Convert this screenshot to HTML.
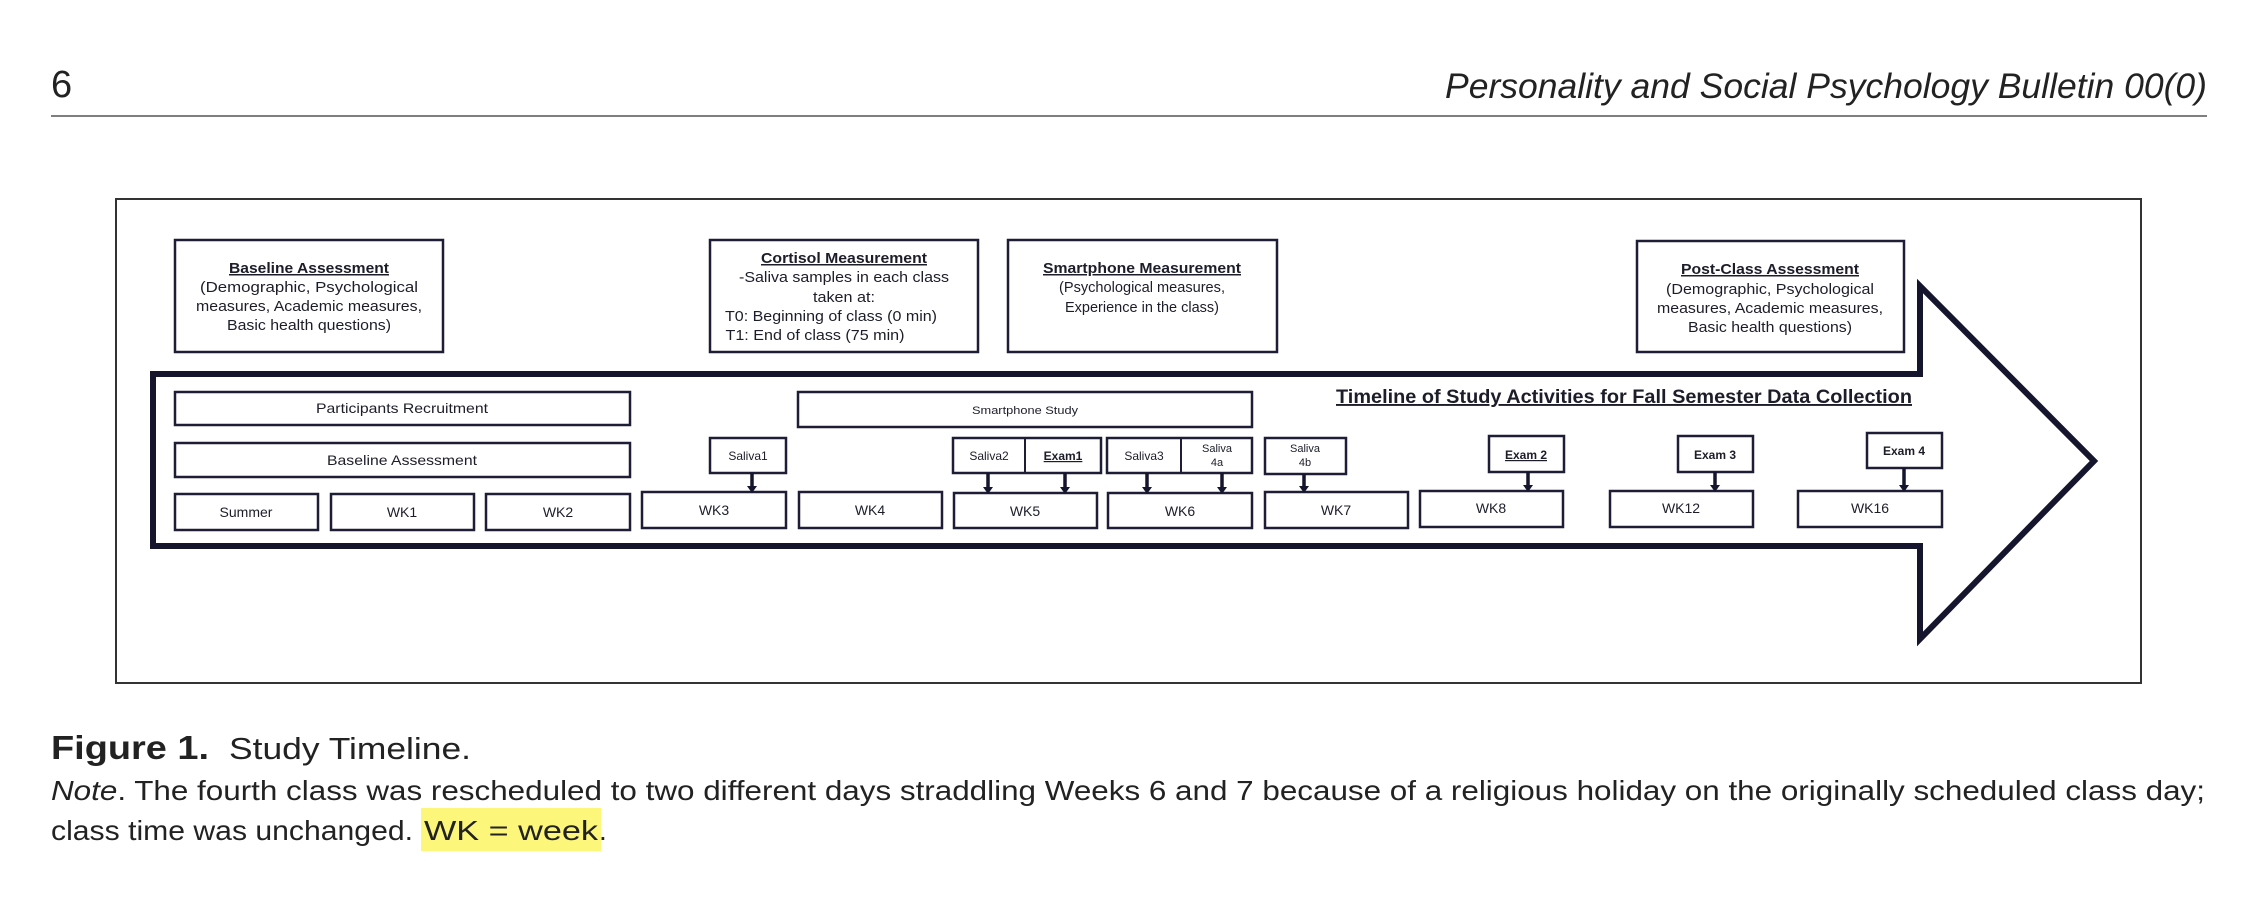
<!DOCTYPE html>
<html><head><meta charset="utf-8"><style>
html,body{margin:0;padding:0;background:#fff;}
svg{display:block;}
text{font-family:"Liberation Sans",sans-serif;fill:#1d1d2a;}
.hd{fill:#222;}
</style></head><body>
<svg width="2260" height="917" viewBox="0 0 2260 917" xmlns="http://www.w3.org/2000/svg">
<!-- header -->
<text x="51" y="97" font-size="38" class="hd">6</text>
<text x="1445" y="98" font-size="35" font-style="italic" class="hd" textLength="762" lengthAdjust="spacingAndGlyphs">Personality and Social Psychology Bulletin 00(0)</text>
<line x1="51" y1="116" x2="2207" y2="116" stroke="#555" stroke-width="1.5"/>

<!-- frame -->
<rect x="116" y="199" width="2025" height="484" fill="#fff" stroke="#333" stroke-width="2"/>

<!-- big arrow -->
<polygon points="153,374 1920,374 1920,286 2094,461 1920,639 1920,546 153,546" fill="#fff" stroke="#15152e" stroke-width="6" stroke-linejoin="miter"/>

<g fill="#fff" stroke="#1d1d35" stroke-width="2.5">
<rect x="175" y="240" width="268" height="112"/>
<rect x="710" y="240" width="268" height="112"/>
<rect x="1008" y="240" width="269" height="112"/>
<rect x="1637" y="241" width="267" height="111"/>
<rect x="175" y="392" width="455" height="33"/>
<rect x="175" y="443" width="455" height="34"/>
<rect x="798" y="392" width="454" height="35"/>
<rect x="710" y="438" width="76" height="35"/>
<rect x="953" y="438" width="148" height="35"/>
<rect x="1107" y="438" width="145" height="35"/>
<rect x="1265" y="438" width="81" height="36"/>
<rect x="1489" y="436" width="75" height="36"/>
<rect x="1678" y="436" width="75" height="36"/>
<rect x="1867" y="433" width="75" height="35"/>
<rect x="175" y="494" width="143" height="36"/>
<rect x="331" y="494" width="143" height="36"/>
<rect x="486" y="494" width="144" height="36"/>
<rect x="642" y="492" width="144" height="36"/>
<rect x="799" y="492" width="143" height="36"/>
<rect x="954" y="493" width="143" height="35"/>
<rect x="1108" y="493" width="144" height="35"/>
<rect x="1265" y="492" width="143" height="36"/>
<rect x="1420" y="491" width="143" height="36"/>
<rect x="1610" y="491" width="143" height="36"/>
<rect x="1798" y="491" width="144" height="36"/>
</g>
<line x1="1025" y1="438" x2="1025" y2="473" stroke="#1d1d35" stroke-width="2"/>
<line x1="1181" y1="438" x2="1181" y2="473" stroke="#1d1d35" stroke-width="2"/>

<g stroke="#15152e" stroke-width="3.5">
<line x1="752" y1="473" x2="752" y2="486"/>
<line x1="988" y1="473" x2="988" y2="487"/>
<line x1="1065" y1="473" x2="1065" y2="487"/>
<line x1="1147" y1="473" x2="1147" y2="487"/>
<line x1="1222" y1="473" x2="1222" y2="487"/>
<line x1="1304" y1="474" x2="1304" y2="486"/>
<line x1="1528" y1="472" x2="1528" y2="485"/>
<line x1="1715" y1="472" x2="1715" y2="485"/>
<line x1="1904" y1="468" x2="1904" y2="485"/>
</g>
<g fill="#15152e">
<polygon points="747,486 757,486 752,493"/>
<polygon points="983,487 993,487 988,494"/>
<polygon points="1060,487 1070,487 1065,494"/>
<polygon points="1142,487 1152,487 1147,494"/>
<polygon points="1217,487 1227,487 1222,494"/>
<polygon points="1299,486 1309,486 1304,493"/>
<polygon points="1523,485 1533,485 1528,492"/>
<polygon points="1710,485 1720,485 1715,492"/>
<polygon points="1899,485 1909,485 1904,492"/>
</g>

<g text-anchor="middle" font-size="15">
<text x="309" y="273" font-weight="bold" text-decoration="underline" textLength="160" lengthAdjust="spacingAndGlyphs">Baseline Assessment</text>
<text x="309" y="292" textLength="218" lengthAdjust="spacingAndGlyphs">(Demographic, Psychological</text>
<text x="309" y="311" textLength="226" lengthAdjust="spacingAndGlyphs">measures, Academic measures,</text>
<text x="309" y="330" textLength="164" lengthAdjust="spacingAndGlyphs">Basic health questions)</text>

<text x="844" y="263" font-weight="bold" text-decoration="underline" textLength="166" lengthAdjust="spacingAndGlyphs">Cortisol Measurement</text>
<text x="844" y="282" textLength="210" lengthAdjust="spacingAndGlyphs">-Saliva samples in each class</text>
<text x="844" y="302" textLength="62" lengthAdjust="spacingAndGlyphs">taken at:</text>
<text x="831" y="321" textLength="212" lengthAdjust="spacingAndGlyphs">T0: Beginning of class (0 min)</text>
<text x="815" y="340" textLength="179" lengthAdjust="spacingAndGlyphs">T1: End of class (75 min)</text>

<text x="1142" y="273" font-weight="bold" text-decoration="underline" textLength="198" lengthAdjust="spacingAndGlyphs">Smartphone Measurement</text>
<text x="1142" y="292" textLength="166" lengthAdjust="spacingAndGlyphs">(Psychological measures,</text>
<text x="1142" y="312" textLength="154" lengthAdjust="spacingAndGlyphs">Experience in the class)</text>

<text x="1770" y="274" font-weight="bold" text-decoration="underline" textLength="178" lengthAdjust="spacingAndGlyphs">Post-Class Assessment</text>
<text x="1770" y="294" textLength="208" lengthAdjust="spacingAndGlyphs">(Demographic, Psychological</text>
<text x="1770" y="313" textLength="226" lengthAdjust="spacingAndGlyphs">measures, Academic measures,</text>
<text x="1770" y="332" textLength="164" lengthAdjust="spacingAndGlyphs">Basic health questions)</text>
</g>

<text x="1336" y="403" font-size="19" font-weight="bold" text-decoration="underline" textLength="576" lengthAdjust="spacingAndGlyphs">Timeline of Study Activities for Fall Semester Data Collection</text>

<g text-anchor="middle" font-size="14" fill="#333">
<text x="402" y="413" textLength="172" lengthAdjust="spacingAndGlyphs">Participants Recruitment</text>
<text x="402" y="465" textLength="150" lengthAdjust="spacingAndGlyphs">Baseline Assessment</text>
<text x="1025" y="414" font-size="11" textLength="106" lengthAdjust="spacingAndGlyphs">Smartphone Study</text>
<text x="748" y="460" font-size="12">Saliva1</text>
<text x="989" y="460" font-size="12">Saliva2</text>
<text x="1063" y="460" font-size="12" font-weight="bold" text-decoration="underline">Exam1</text>
<text x="1144" y="460" font-size="12">Saliva3</text>
<text x="1217" y="452" font-size="11">Saliva</text>
<text x="1217" y="466" font-size="11">4a</text>
<text x="1305" y="452" font-size="11">Saliva</text>
<text x="1305" y="466" font-size="11">4b</text>
<text x="1526" y="459" font-size="12" font-weight="bold" text-decoration="underline">Exam 2</text>
<text x="1715" y="459" font-size="12" font-weight="bold">Exam 3</text>
<text x="1904" y="455" font-size="12" font-weight="bold">Exam 4</text>
<text x="246" y="517">Summer</text>
<text x="402" y="517">WK1</text>
<text x="558" y="517">WK2</text>
<text x="714" y="515">WK3</text>
<text x="870" y="515">WK4</text>
<text x="1025" y="516">WK5</text>
<text x="1180" y="516">WK6</text>
<text x="1336" y="515">WK7</text>
<text x="1491" y="513">WK8</text>
<text x="1681" y="513">WK12</text>
<text x="1870" y="513">WK16</text>
</g>

<!-- caption -->
<rect x="421" y="808" width="180" height="43" fill="#fcf77a"/>
<text x="51" y="759" font-size="33" font-weight="bold" class="hd" textLength="158" lengthAdjust="spacingAndGlyphs">Figure 1.</text>
<text x="229" y="759" font-size="31" class="hd" textLength="242" lengthAdjust="spacingAndGlyphs">Study Timeline.</text>
<text x="51" y="800" font-size="28" class="hd" textLength="2154" lengthAdjust="spacingAndGlyphs"><tspan font-style="italic">Note</tspan>. The fourth class was rescheduled to two different days straddling Weeks 6 and 7 because of a religious holiday on the originally scheduled class day;</text>
<text x="51" y="840" font-size="28" class="hd" textLength="362" lengthAdjust="spacingAndGlyphs">class time was unchanged.</text>
<text x="424" y="840" font-size="28" class="hd" textLength="174" lengthAdjust="spacingAndGlyphs">WK = week</text>
<text x="599" y="840" font-size="28" class="hd">.</text>
</svg>
</body></html>
